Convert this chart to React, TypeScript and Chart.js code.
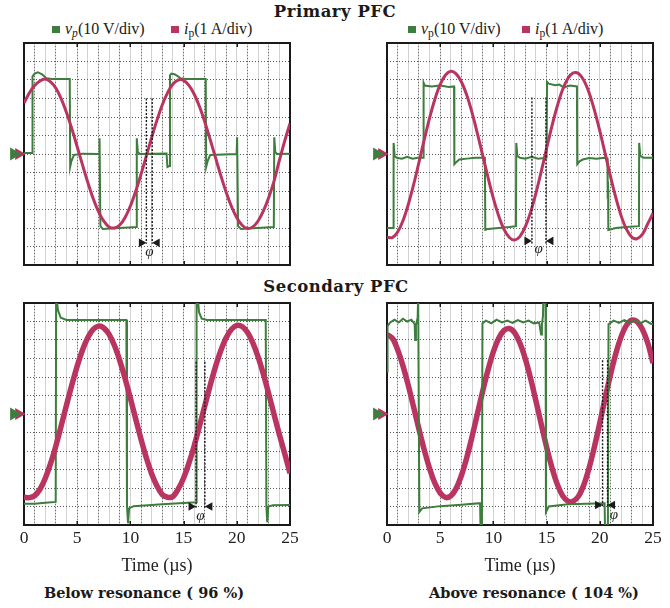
import React, { useEffect, useRef } from "react";
import { Chart, registerables } from "chart.js";

Chart.register(...registerables);

const GREEN = "#3d7d3d";
const PINK = "#ba3460";
const INK = "#1a1a1a";
const SERIF = "'Liberation Serif', 'DejaVu Serif', serif";
const TITLE_SERIF = "'DejaVu Serif', 'Liberation Serif', serif";

// ---------- axis / grid values ----------
const timeTicks = [0, 5, 10, 15, 20, 25];
const lightGridUs = [1, 2, 3, 4, 5, 6, 7, 8, 9, 10, 11, 12, 13, 14, 15, 16, 17, 18, 19, 20, 21, 22, 23, 24];
const dottedGridUs = [1, 3, 5, 7, 9, 11, 13, 15, 17, 19, 21, 23];
const divisionLines = [-5, -4, -3, -2, -1, 0, 1, 2, 3, 4, 5];
const groundMarkerGreenUs = -0.95;
const groundMarkerPinkUs = -0.5;

// ---------- sampled time base (µs) ----------
const timeUs = [
  0, 0.5, 1, 1.5, 2, 2.5, 3, 3.5, 4, 4.5, 5, 5.5, 6, 6.5, 7, 7.5, 8, 8.5, 9, 9.5,
  10, 10.5, 11, 11.5, 12, 12.5, 13, 13.5, 14, 14.5, 15, 15.5, 16, 16.5, 17, 17.5,
  18, 18.5, 19, 19.5, 20, 20.5, 21, 21.5, 22, 22.5, 23, 23.5, 24, 24.5, 25,
];

// ---------- currents i_p (divisions) ----------
const primaryBelowCurrent = [
  2.75, 3.3, 3.7, 3.95, 4.05, 3.9, 3.55, 2.98, 2.23, 1.36, 0.39, -0.59, -1.54, -2.4, -3.11, -3.63,
  -3.94, -4.0, -3.84, -3.43, -2.81, -2.01, -1.09, -0.1, 0.89, 1.83, 2.66, 3.32, 3.78, 4.0, 3.98,
  3.71, 3.23, 2.55, 1.72, 0.78, -0.2, -1.17, -2.07, -2.84, -3.45, -3.85, -4.02, -3.94, -3.62,
  -3.08, -2.35, -1.47, -0.35, 0.7, 1.65,
];
const primaryAboveCurrent = [
  -4.5, -4.52, -4.22, -3.61, -2.73, -1.66, -0.46, 0.77, 1.94, 2.96, 3.76, 4.27, 4.47, 4.33, 3.89,
  3.17, 2.22, 1.1, -0.09, -1.28, -2.4, -3.35, -4.07, -4.51, -4.65, -4.45, -3.93, -3.13, -2.11,
  -0.94, 0.3, 1.51, 2.58, 3.47, 4.08, 4.38, 4.35, 3.98, 3.3, 2.36, 1.25, 0.03, -1.2, -2.35, -3.33,
  -4.06, -4.49, -4.58, -4.35, -3.78, -3.2,
];
const secondaryBelowCurrent = [
  -4.5, -4.52, -4.42, -4.07, -3.47, -2.67, -1.71, -0.63, 0.49, 1.58, 2.59, 3.46, 4.13, 4.57, 4.75,
  4.65, 4.3, 3.7, 2.89, 1.92, 0.85, -0.27, -1.36, -2.37, -3.24, -3.89, -4.36, -4.5, -4.46, -4.05,
  -3.46, -2.66, -1.71, -0.64, 0.46, 1.55, 2.56, 3.43, 4.12, 4.58, 4.79, 4.73, 4.42, 3.86, 3.09,
  2.15, 1.09, -0.02, -1.11, -2.14, -3.2,
];
const secondaryAboveCurrent = [
  4.3, 4.1, 3.47, 2.6, 1.55, 0.38, -0.81, -1.94, -2.94, -3.74, -4.27, -4.51, -4.43, -4.02, -3.31,
  -2.35, -1.21, 0.02, 1.25, 2.39, 3.37, 4.09, 4.52, 4.62, 4.39, 3.82, 2.98, 1.91, 0.7, -0.56, -1.79,
  -2.89, -3.79, -4.41, -4.71, -4.72, -4.44, -3.82, -2.9, -1.76, -0.48, 0.85, 2.12, 3.26, 4.17, 4.79,
  5.07, 4.99, 4.58, 3.85, 2.75,
];

// ---------- voltages v_p as [time µs, divisions] ----------
const primaryBelowVoltage: [number, number][] = [
  [0, 0.05], [0.76, 0.05], [0.8, 4.2], [1.0, 4.35], [1.3, 4.42], [1.7, 4.3], [2.1, 4.1], [2.6, 4.05],
  [4.3, 4.05], [4.34, -0.7], [4.45, -0.4], [4.7, -0.05], [5.5, 0.02], [7.05, 0.0], [7.1, 0.85],
  [7.18, -3.9], [7.4, -4.05], [10.56, -3.95], [10.6, 0.85], [10.7, 0.1], [10.9, 0.0], [13.4, 0.02],
  [13.48, -0.7], [13.66, -0.65], [13.72, 4.25], [13.85, 4.35], [14.2, 4.3], [14.7, 4.1], [15.2, 4.05],
  [17.08, 4.05], [17.12, -0.7], [17.25, -0.4], [17.5, -0.05], [19.98, 0.0], [20.03, 0.9],
  [20.12, -3.9], [20.4, -4.05], [23.48, -3.95], [23.52, 0.9], [23.62, 0.1], [23.8, 0.0], [25, 0.02],
];
const primaryAboveVoltage: [number, number][] = [
  [0, -4.0], [0.6, -4.0], [0.62, 0.6], [0.72, -0.1], [0.9, -0.2], [1.4, -0.25], [1.9, -0.15],
  [2.4, -0.25], [2.9, -0.2], [3.4, -0.2], [3.44, 3.85], [3.55, 3.7], [4.2, 3.65], [5.0, 3.7],
  [5.8, 3.62], [6.3, 3.65], [6.33, -0.55], [6.5, -0.45], [6.8, -0.3], [7.5, -0.25], [8.3, -0.2],
  [9.2, -0.2], [9.24, -4.1], [9.5, -4.05], [10.5, -4.0], [11.5, -3.95], [12.12, -3.9], [12.15, 0.6],
  [12.25, -0.1], [12.5, -0.2], [13.0, -0.25], [13.6, -0.15], [14.2, -0.25], [15.0, -0.2],
  [15.04, 3.9], [15.2, 3.8], [15.8, 3.72], [16.2, 3.75], [16.6, 3.6], [17.2, 3.7], [17.85, 3.65],
  [17.88, -0.55], [18.1, -0.4], [18.4, -0.3], [19.0, -0.22], [19.7, -0.25], [20.4, -0.2],
  [20.72, -0.25], [20.74, -2.0], [20.78, -1.9], [20.8, -4.1], [21.5, -4.0], [22.5, -3.95],
  [23.68, -3.9], [23.7, 0.6], [23.8, -0.1], [24.1, -0.2], [24.6, -0.2], [25, -0.2],
];
const secondaryBelowVoltage: [number, number][] = [
  [0, -4.85], [1.0, -4.85], [2.0, -4.8], [2.98, -4.75], [3.02, 6.4], [3.1, 6.4], [3.2, 5.6],
  [3.45, 5.2], [4.0, 5.08], [9.62, 5.08], [9.68, -5.0], [9.78, -5.9], [9.88, -5.1], [10.3, -4.98],
  [13.0, -4.88], [16.18, -4.77], [16.22, 6.4], [16.32, 6.4], [16.45, 5.5], [16.7, 5.15], [17.2, 5.08],
  [22.72, 5.08], [22.78, -5.0], [22.86, -5.85], [22.96, -5.0], [23.4, -4.93], [25, -4.92],
];
const secondaryAboveVoltage: [number, number][] = [
  [0, 2.3], [0.05, 4.75], [0.3, 4.95], [0.7, 5.1], [1.1, 4.95], [1.5, 5.15], [1.9, 5.0], [2.3, 5.1],
  [2.6, 4.85], [2.65, 4.0], [2.72, 4.8], [2.88, 5.2], [2.93, 6.4], [3.0, 6.4], [3.04, -5.3],
  [3.3, -5.1], [5.0, -4.98], [7.0, -4.9], [8.75, -4.82], [8.8, -6.5], [8.92, -6.5], [8.97, 4.9],
  [9.3, 5.05], [9.8, 4.9], [10.3, 5.1], [10.8, 4.95], [11.3, 5.05], [11.8, 4.92], [12.3, 5.08],
  [12.8, 4.95], [13.3, 5.05], [13.8, 4.9], [14.3, 4.95], [14.48, 4.3], [14.56, 4.85], [14.66, 5.3],
  [14.7, 6.4], [14.9, 6.4], [14.94, -5.3], [15.2, -5.0], [17.0, -4.88], [20.45, -4.82], [20.5, -6.4],
  [20.76, -6.4], [20.82, 4.85], [21.3, 5.05], [21.8, 4.92], [22.3, 5.08], [22.8, 4.95], [23.3, 5.05],
  [23.8, 4.9], [24.3, 5.05], [24.8, 4.88], [25, 4.85],
];

// ---------- phase markers: [t1, t2] µs, dashed span in divisions, label ----------
const primaryBelowPhase = { lines: [11.5, 12.05], top: 3.0, bottom: -4.85, arrow: -4.8, label: [11.78, -5.3] };
const primaryAbovePhase = { lines: [13.62, 14.94], top: 3.05, bottom: -4.85, arrow: -4.7, label: [14.25, -5.15] };
const secondaryBelowPhase = { lines: [16.17, 17.0], top: 2.82, bottom: -5.1, arrow: -5.0, label: [16.58, -5.5] };
const secondaryAbovePhase = { lines: [20.26, 20.73], top: 2.9, bottom: -5.05, arrow: -4.92, label: [21.32, -5.45] };

type Phase = { lines: number[]; top: number; bottom: number; arrow: number; label: number[] };
type PanelSpec = {
  left: number;
  top: number;
  showTime: boolean;
  current: number[];
  voltage: [number, number][];
  currentWidth: number;
  voltageOnTop: boolean;
  phase: Phase;
};

const AREA_W = 266;
const AREA_H = 222;
const ARROW_R = 5;

const fixedTicks = (values: number[]) => (scale: any) => {
  scale.ticks = values.map((v) => ({ value: v }));
};
const zeroH = (s: any) => {
  s.height = 0;
};
const zeroW = (s: any) => {
  s.width = 0;
};

const decorations = {
  id: "decorations",
  afterDatasetsDraw(chart: any, _args: any, opts: any) {
    const { ctx, chartArea, scales } = chart;
    const xs = scales.x;
    const ys = scales.y;
    ctx.save();
    ctx.strokeStyle = INK;
    ctx.lineWidth = 1.5;
    for (const v of timeTicks) {
      if (v <= 0 || v >= 25) continue;
      const px = Math.round(xs.getPixelForValue(v)) + 0.25;
      ctx.beginPath();
      ctx.moveTo(px, chartArea.bottom);
      ctx.lineTo(px, chartArea.bottom - 4);
      ctx.moveTo(px, chartArea.top);
      ctx.lineTo(px, chartArea.top + 4);
      ctx.stroke();
    }
    ctx.fillStyle = "#222";
    ctx.font = `italic 15px ${SERIF}`;
    ctx.textAlign = "center";
    ctx.textBaseline = "middle";
    ctx.fillText("φ", xs.getPixelForValue(opts.phiX), ys.getPixelForValue(opts.phiY));
    ctx.restore();
  },
};

function Panel({ spec }: { spec: PanelSpec }) {
  const ref = useRef<HTMLCanvasElement | null>(null);
  const PAD_L = 26;
  const PAD_R = 14;
  const PAD_T = 8;
  const PAD_B = 4;
  const axisH = spec.showTime ? 52 : 0;
  const W = PAD_L + AREA_W + PAD_R;
  const H = PAD_T + AREA_H + axisH + PAD_B;

  useEffect(() => {
    const canvas = ref.current;
    if (!canvas) return;
    const ph = spec.phase;
    const arrowOffset = (ARROW_R * 25) / AREA_W;
    const datasets: any[] = [
      {
        data: [{ x: ph.lines[0], y: ph.top }, { x: ph.lines[0], y: ph.bottom }],
        borderColor: INK, borderWidth: 1.4, borderDash: [2, 1.6], pointRadius: 0, order: 0,
      },
      {
        data: [{ x: ph.lines[1], y: ph.top }, { x: ph.lines[1], y: ph.bottom }],
        borderColor: INK, borderWidth: 1.4, borderDash: [2, 1.6], pointRadius: 0, order: 0,
      },
      {
        data: [{ x: ph.lines[0] - arrowOffset, y: ph.arrow }, { x: ph.lines[1] + arrowOffset, y: ph.arrow }],
        showLine: false, pointStyle: "triangle", pointRotation: [90, 270], pointRadius: ARROW_R,
        pointBackgroundColor: INK, pointBorderColor: INK, pointBorderWidth: 0, order: 0,
      },
      {
        // transparent wide border only widens Chart.js's "point in area" margin so the marker left of the axis is kept
        data: [{ x: groundMarkerGreenUs, y: 0 }],
        showLine: false, pointStyle: "triangle", pointRotation: 90, pointRadius: 7.5,
        pointBackgroundColor: GREEN, pointBorderColor: "rgba(0,0,0,0)", pointBorderWidth: 10,
        clip: false, order: 1,
      },
      {
        data: [{ x: groundMarkerPinkUs, y: 0 }],
        showLine: false, pointStyle: "triangle", pointRotation: 90, pointRadius: 7,
        pointBackgroundColor: PINK, pointBorderColor: "rgba(0,0,0,0)", pointBorderWidth: 10,
        clip: false, order: 1.5,
      },
      {
        data: timeUs.map((t, i) => ({ x: t, y: spec.current[i] })),
        borderColor: PINK, borderWidth: spec.currentWidth, pointRadius: 0, tension: 0.35,
        borderJoinStyle: "round", order: spec.voltageOnTop ? 3 : 2,
      },
      {
        data: spec.voltage.map(([x, y]) => ({ x, y })),
        borderColor: GREEN, borderWidth: 2, pointRadius: 0, tension: 0,
        order: spec.voltageOnTop ? 2 : 3,
      },
    ];

    const hidden = { display: false };
    const chart = new Chart(canvas, {
      type: "line",
      data: { datasets },
      options: {
        responsive: false,
        animation: false,
        events: [],
        layout: { autoPadding: false, padding: { left: PAD_L, right: PAD_R, top: PAD_T, bottom: PAD_B } },
        plugins: {
          legend: hidden,
          tooltip: { enabled: false },
          decorations: { phiX: ph.label[0], phiY: ph.label[1] },
        } as any,
        scales: {
          x: {
            type: "linear", position: "bottom", min: 0, max: 25,
            afterBuildTicks: fixedTicks(timeTicks),
            ticks: {
              display: spec.showTime, padding: 3, color: "#222", autoSkip: false, maxRotation: 0,
              font: { family: SERIF, size: 17.5 },
              callback: (v: any) => String(v),
            },
            grid: { display: false, drawTicks: false },
            border: { display: true, color: INK, width: 2 },
            title: {
              display: spec.showTime, text: "Time (µs)", color: "#222",
              font: { family: SERIF, size: 18 }, padding: { top: 0, bottom: 0 },
            },
            afterFit: (s: any) => {
              s.height = axisH;
            },
          },
          y: {
            type: "linear", position: "left", min: -6, max: 6,
            ticks: { display: false },
            grid: { display: false, drawTicks: false },
            border: { display: true, color: INK, width: 2 },
            afterFit: zeroW,
          },
          xg: {
            type: "linear", position: "bottom", min: 0, max: 25,
            afterBuildTicks: fixedTicks(lightGridUs),
            ticks: { display: false, autoSkip: false },
            grid: { display: true, drawTicks: false, color: "#d2d2d2", lineWidth: 1 },
            border: { display: false },
            afterFit: zeroH,
          },
          xd: {
            type: "linear", position: "bottom", min: 0, max: 25,
            afterBuildTicks: fixedTicks(dottedGridUs),
            ticks: { display: false, autoSkip: false },
            grid: { display: true, drawTicks: false, color: "#6e6e6e", lineWidth: 1 },
            border: { display: false, dash: [1, 2] },
            afterFit: zeroH,
          },
          yg: {
            type: "linear", position: "left", min: -6, max: 6,
            afterBuildTicks: fixedTicks(divisionLines),
            ticks: { display: false, autoSkip: false },
            grid: { display: true, drawTicks: false, color: "#5c5c5c", lineWidth: 1 },
            border: { display: false, dash: [1, 2] },
            afterFit: zeroW,
          },
          xTop: {
            type: "linear", position: "top", min: 0, max: 25,
            ticks: { display: false },
            grid: { display: false, drawTicks: false },
            border: { display: true, color: INK, width: 2 },
            afterFit: zeroH,
          },
          yRight: {
            type: "linear", position: "right", min: -6, max: 6,
            ticks: { display: false },
            grid: { display: false, drawTicks: false },
            border: { display: true, color: INK, width: 2 },
            afterFit: zeroW,
          },
        } as any,
      },
      plugins: [decorations as any],
    });
    return () => chart.destroy();
  }, []);

  return (
    <canvas
      ref={ref}
      width={W}
      height={H}
      style={{ position: "absolute", left: spec.left - PAD_L, top: spec.top - PAD_T, width: W, height: H }}
    />
  );
}

function Text({ x, y, style, children }: { x: number; y: number; style?: React.CSSProperties; children: React.ReactNode }) {
  return (
    <div
      style={{
        position: "absolute", left: x, top: y, transform: "translate(-50%, -50%)",
        whiteSpace: "nowrap", lineHeight: 1, color: "#1a1a1a", ...style,
      }}
    >
      {children}
    </div>
  );
}

function LegendItem({ x, y, color, sym, subItalic, text }: { x: number; y: number; color: string; sym: string; subItalic: boolean; text: string }) {
  return (
    <div
      style={{
        position: "absolute", left: x, top: y, transform: "translateY(-50%)", display: "flex",
        alignItems: "center", whiteSpace: "nowrap", fontFamily: SERIF, fontSize: 16, color: "#1a1a1a", lineHeight: 1,
      }}
    >
      <span style={{ display: "inline-block", width: 8, height: 7, background: color, marginRight: 5 }} />
      <span>
        <i>{sym}</i>
        <sub style={{ fontSize: "0.72em", fontStyle: subItalic ? "italic" : "normal", lineHeight: 0, verticalAlign: "-0.3em" }}>p</sub>
        {text}
      </span>
    </div>
  );
}

const panels: PanelSpec[] = [
  { left: 24, top: 43, showTime: false, current: primaryBelowCurrent, voltage: primaryBelowVoltage, currentWidth: 3, voltageOnTop: false, phase: primaryBelowPhase },
  { left: 387, top: 43, showTime: false, current: primaryAboveCurrent, voltage: primaryAboveVoltage, currentWidth: 3, voltageOnTop: false, phase: primaryAbovePhase },
  { left: 24, top: 302.5, showTime: true, current: secondaryBelowCurrent, voltage: secondaryBelowVoltage, currentWidth: 5.5, voltageOnTop: false, phase: secondaryBelowPhase },
  { left: 387, top: 302.5, showTime: true, current: secondaryAboveCurrent, voltage: secondaryAboveVoltage, currentWidth: 5.5, voltageOnTop: true, phase: secondaryAbovePhase },
];

export default function App() {
  const titleStyle: React.CSSProperties = { fontFamily: TITLE_SERIF, fontWeight: "bold", fontSize: 16.5, letterSpacing: 0.5 };
  const captionStyle: React.CSSProperties = { fontFamily: TITLE_SERIF, fontWeight: "bold", fontSize: 14.5 };
  return (
    <div style={{ position: "absolute", left: 0, top: 0, width: 670, height: 608, background: "#fff", overflow: "hidden" }}>
      <Text x={335} y={12} style={titleStyle}>Primary PFC</Text>
      <Text x={336} y={287} style={titleStyle}>Secondary PFC</Text>
      <LegendItem x={52} y={29} color={GREEN} sym="v" subItalic={true} text="(10 V/div)" />
      <LegendItem x={171} y={29} color={PINK} sym="i" subItalic={false} text="(1 A/div)" />
      <LegendItem x={408} y={29} color={GREEN} sym="v" subItalic={false} text="(10 V/div)" />
      <LegendItem x={522} y={29} color={PINK} sym="i" subItalic={false} text="(1 A/div)" />
      {panels.map((p, i) => (
        <Panel key={i} spec={p} />
      ))}
      <Text x={144} y={593} style={captionStyle}>Below resonance ( 96 %)</Text>
      <Text x={534} y={593} style={captionStyle}>Above resonance ( 104 %)</Text>
    </div>
  );
}
